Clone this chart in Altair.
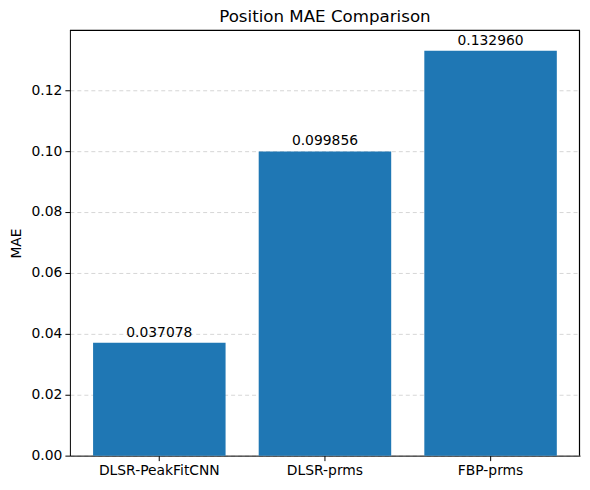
import altair as alt
import pandas as pd

models = ["DLSR-PeakFitCNN", "DLSR-prms", "FBP-prms"]
mae = [0.037078, 0.099856, 0.132960]
labels = ["0.037078", "0.099856", "0.132960"]

df = pd.DataFrame({"model": models, "mae": mae, "label": labels})

FONT = "DejaVu Sans"
ymax = max(mae) * 1.05
W, H = 511, 426

x = alt.X("model:N", sort=models, title=None,
          scale=alt.Scale(paddingInner=0.2, paddingOuter=0.14),
          axis=alt.Axis(labelAngle=0, labelFont=FONT, labelFontSize=13.9, labelColor="black",
                        domainColor="black", tickColor="black", tickSize=5, labelPadding=3,
                        grid=False))
y = alt.Y("mae:Q", title="MAE",
          scale=alt.Scale(domain=[0, ymax], nice=False, zero=True),
          axis=alt.Axis(values=[0, 0.02, 0.04, 0.06, 0.08, 0.10, 0.12], format=".2f",
                        labelFont=FONT, labelFontSize=13.9, labelColor="black",
                        titleFont=FONT, titleFontSize=13.9, titleFontWeight="normal",
                        titleColor="black", titlePadding=8,
                        domainColor="black", tickColor="black", tickSize=5, labelPadding=3,
                        grid=True, gridDash=[4, 3], gridColor="#cccccc", gridWidth=0.8))

bars = alt.Chart(df).mark_bar(color="#1f77b4").encode(x=x, y=y)
text = alt.Chart(df).mark_text(baseline="bottom", dy=-3, font=FONT, fontSize=13.9, color="black").encode(
    x=alt.X("model:N", sort=models), y="mae:Q", text="label:N")

border = pd.DataFrame({"x0": [models[0]], "x1": [models[-1]], "yt": [ymax]})
top_rule = alt.Chart(border).mark_rule(color="black", strokeWidth=1.2).encode(
    x=alt.value(0), x2=alt.value(W), y=alt.Y("yt:Q"))
right_rule = alt.Chart(border).mark_rule(color="black", strokeWidth=1.2).encode(
    x=alt.value(W - 0.5), y=alt.value(0), y2=alt.value(H))

chart = (bars + text + top_rule + right_rule).properties(
    width=W, height=H,
    title=alt.TitleParams("Position MAE Comparison", font=FONT, fontSize=16.7,
                          fontWeight="normal", color="black", offset=4),
    autosize=alt.AutoSizeParams(type="none"),
    padding={"left": 62, "top": 22, "right": 2, "bottom": 30},
).configure_view(strokeWidth=0).configure_axis(domainWidth=1, tickWidth=1)

chart.save("out.html", embed_options={"renderer": "svg", "actions": False})
